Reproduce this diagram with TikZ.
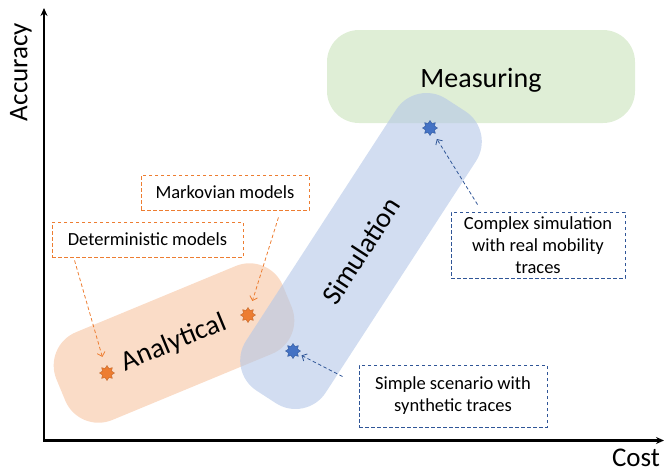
\documentclass[tikz,border=0pt]{standalone}
\usepackage{fontspec}
\setmainfont{Carlito}
\usetikzlibrary{shapes.geometric, arrows.meta, positioning}

\definecolor{orangeline}{HTML}{ED7D31}
\definecolor{orangefill}{HTML}{F4B183}
\definecolor{bluefill}{HTML}{B4C7E7}
\definecolor{blueline}{HTML}{2F5597}
\definecolor{bluestar}{HTML}{4472C4}
\definecolor{greenfill}{HTML}{C5E0B4}

\begin{document}
\begin{tikzpicture}[x=1pt, y=-1pt,
    region/.style={inner sep=0pt, rounded corners=36pt, fill opacity=0.55, text opacity=1, font=\fontsize{28}{32}\selectfont},
    note/.style={draw, dash pattern=on 3.5pt off 2.5pt, line width=0.9pt, align=center, inner sep=0pt, font=\fontsize{18.5}{22}\selectfont},
    marker/.style={star, star points=8, star point ratio=1.5, minimum size=15pt, inner sep=0pt, line width=0.4pt},
    pointer/.style={-{Straight Barb[length=4pt,width=8pt]}, dash pattern=on 3.5pt off 2.5pt, line width=0.8pt}]
    \useasboundingbox (0,0) rectangle (665,474);

    % axes
    \coordinate (origin) at (44,440.5);
    \coordinate (ytip) at (44,8);
    \coordinate (xtip) at (664,440.5);
    \draw[line width=2.5pt, {Stealth[length=8pt,width=7pt]}-{Stealth[length=8pt,width=7pt]}] (ytip) -- (origin) -- (xtip);
    \node[rotate=90, font=\fontsize{27}{30}\selectfont] (acc) at (21,72) {Accuracy};
    \node[font=\fontsize{27}{30}\selectfont] (cost) at (636,458) {Cost};

    % regions
    \node[region, fill=greenfill, minimum width=308pt, minimum height=93pt, rounded corners=32pt] (measuring) at (481,76.5) {};
    \node[font=\fontsize{28}{32}\selectfont, anchor=base] (meastext) at ([yshift=-10.5pt]measuring.center) {Measuring};
    \node[region, fill=orangefill, fill opacity=0.45, rotate=22.5, minimum width=245pt, minimum height=95pt] (analytical) at (174,343) {Analytical};
    \node[region, fill=bluefill, fill opacity=0.6, rotate=57, minimum width=348pt, minimum height=95pt] (simulation) at (361,251) {Simulation};

    % stars
    \node[marker, fill=orangeline, draw=orangeline!80!black] (detstar) at (107,373) {};
    \node[marker, fill=orangeline, draw=orangeline!80!black] (markstar) at (248,315) {};
    \node[marker, fill=bluestar, draw=blueline] (simplestar) at (293,351) {};
    \node[marker, fill=bluestar, draw=blueline] (complexstar) at (430,128) {};

    % notes
    \node[note, draw=orangeline, minimum width=191pt, minimum height=35pt] (det) at (147.5,239.5) {Deterministic models};
    \node[note, draw=orangeline, minimum width=168pt, minimum height=35pt] (mark) at (225,192.5) {Markovian models};
    \node[note, draw=blueline, minimum width=174pt, minimum height=66pt] (complex) at (538,245) {Complex simulation\\with real mobility\\traces};
    \node[note, draw=blueline, minimum width=188pt, minimum height=62pt] (simple) at (453,396) {Simple scenario with\\synthetic traces};

    \draw[pointer, orangeline, shorten >=11pt] ([xshift=23pt, yshift=-3pt]det.south west) -- (detstar);
    \draw[pointer, orangeline, shorten >=9pt] ([xshift=-31pt, yshift=-7pt]mark.south east) -- (markstar);
    \draw[pointer, blueline, shorten >=7pt] ([xshift=27pt, yshift=7pt]complex.north west) -- (complexstar);
    \draw[pointer, blueline, shorten >=4pt] ([xshift=-16pt, yshift=-12pt]simple.north west) -- (simplestar);
\end{tikzpicture}
\end{document}
